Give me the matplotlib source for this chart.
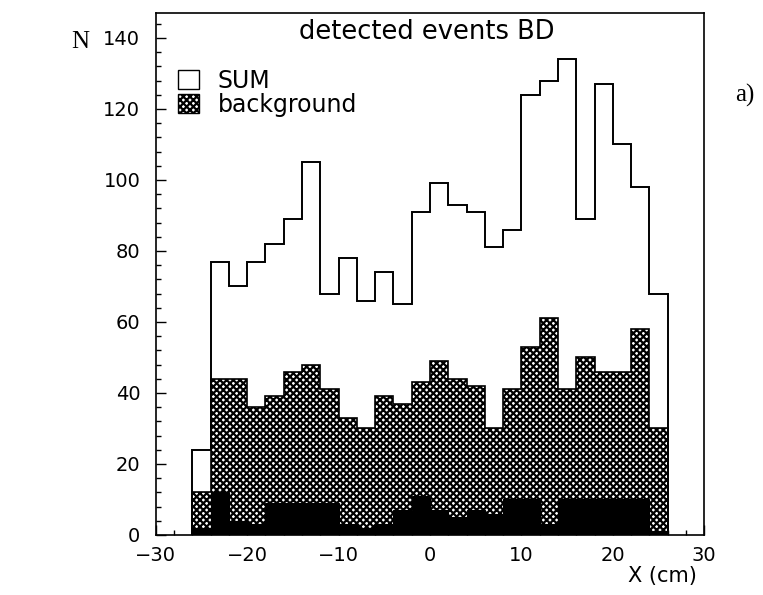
import numpy as np
import matplotlib
matplotlib.use("Agg")
import matplotlib.pyplot as plt
from matplotlib.patches import Patch
from matplotlib.ticker import MultipleLocator

# bin edges: 26 bins of 2 cm from -26 to 26
bin_lo = -26
bin_w = 2
n_bins = 26
edges = bin_lo + bin_w * np.arange(n_bins + 1)

sum_vals = [24, 77, 70, 77, 82, 89, 105, 68, 78, 66, 74, 65, 91,
            99, 93, 91, 81, 86, 124, 128, 134, 89, 127, 110, 98, 68]
background = [12, 44, 44, 36, 39, 46, 48, 41, 33, 30, 39, 37, 43,
              49, 44, 42, 30, 41, 53, 61, 41, 50, 46, 46, 58, 30]
dark = [2, 12, 4, 3, 9, 9, 9, 9, 3, 2, 3, 7, 11,
        7, 5, 7, 6, 10, 10, 3, 10, 10, 10, 10, 10, 1]

plt.rcParams['hatch.linewidth'] = 1.6
plt.rcParams['font.family'] = ['DejaVu Sans']

fig = plt.figure(figsize=(7.63, 5.95), dpi=100)
ax = fig.add_axes([0.204, 0.101, 0.719, 0.877])

ax.stairs(background, edges, fill=True, facecolor='white', edgecolor='black',
          hatch='xxxxx', linewidth=1.2)
ax.stairs(dark, edges, fill=True, facecolor='black', edgecolor='black', linewidth=0.8)
ax.stairs(sum_vals, edges, color='black', linewidth=1.4)

ax.set_xlim(-30, 30)
ax.set_ylim(0, 147)
ax.xaxis.set_major_locator(MultipleLocator(10))
ax.xaxis.set_minor_locator(MultipleLocator(2))
ax.yaxis.set_major_locator(MultipleLocator(20))
ax.yaxis.set_minor_locator(MultipleLocator(4))
ax.tick_params(which='both', direction='in', top=False, right=False,
               labelsize=14, width=1.0)
ax.tick_params(which='major', length=7)
ax.tick_params(which='minor', length=3.5)
ax.tick_params(axis='y', which='major', pad=11)
ax.tick_params(axis='x', which='major', pad=8)
for s in ax.spines.values():
    s.set_linewidth(1.2)

ax.text(0.494, 0.964, 'detected events BD', transform=ax.transAxes,
        ha='center', va='center', fontsize=18.5)

handles = [Patch(facecolor='white', edgecolor='black', linewidth=1.0),
           Patch(facecolor='white', edgecolor='black', hatch='xxxxx', linewidth=1.0)]
ax.legend(handles, ['SUM', 'background'], loc='upper left',
          bbox_to_anchor=(0.01, 0.925), frameon=False, fontsize=17,
          handlelength=0.9, handleheight=0.9, handletextpad=0.8,
          labelspacing=0.0, borderaxespad=0.3)

fig.text(80 / 763, 1 - 42 / 595, 'N', fontsize=18, family='Liberation Serif',
         ha='center', va='center')
fig.text(745 / 763, 1 - 95 / 595, 'a)', fontsize=18, family='Liberation Serif',
         ha='center', va='center')
fig.text(662 / 763, 1 - 576 / 595, 'X (cm)', fontsize=15, ha='center', va='center')

fig.savefig('out.png', dpi=100)
